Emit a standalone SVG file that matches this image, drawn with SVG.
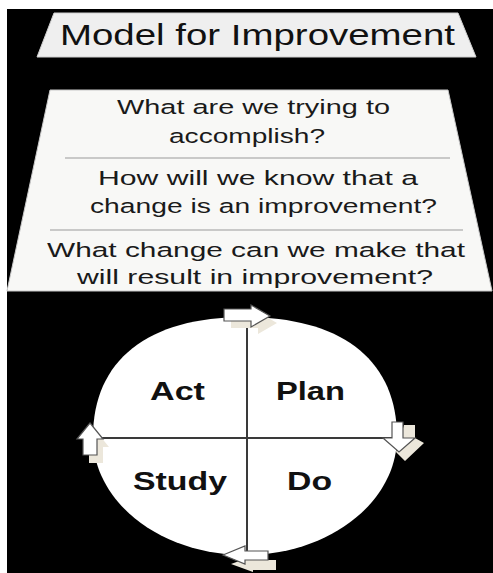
<svg xmlns="http://www.w3.org/2000/svg" width="493" height="573" viewBox="0 0 493 573">
<style>
.q{font-family:"Liberation Sans",Arial,sans-serif;font-size:20.5px;fill:#1a1a1a;}
.t{font-family:"Liberation Sans",Arial,sans-serif;font-size:29px;fill:#111;}
.lbl{font-family:"Liberation Sans",Arial,sans-serif;font-size:25px;font-weight:bold;fill:#111;}
.arrow{fill:#ffffff;stroke:#555;stroke-width:1.2;stroke-linejoin:miter;}
.shadow{fill:#ece7db;}
.sep{stroke:#9a9a9a;stroke-width:1;}
.axis{stroke:#3a3a3a;stroke-width:2;}
</style>
<rect x="0" y="0" width="493" height="573" fill="#ffffff"/>
<rect x="7" y="9" width="486" height="564" fill="#000000"/>

<g id="title">
  <polygon points="54,13 458,13 476,57 37,57" fill="#efefef" stroke="#cfcfcf" stroke-width="1"/>
  <text class="t" x="60" y="45" textLength="395" lengthAdjust="spacingAndGlyphs">Model for Improvement</text>
</g>

<g id="questions">
  <polygon points="50,90 448,90 492,291 7,291" fill="#f8f8f6" stroke="#c8c8c8" stroke-width="1"/>
  <text class="q" x="117" y="114" textLength="273" lengthAdjust="spacingAndGlyphs">What are we trying to</text>
  <text class="q" x="169" y="143" textLength="156" lengthAdjust="spacingAndGlyphs">accomplish?</text>
  <line class="sep" x1="65" y1="158" x2="450" y2="158"/>
  <text class="q" x="98" y="185" textLength="320" lengthAdjust="spacingAndGlyphs">How will we know that a</text>
  <text class="q" x="90" y="213" textLength="347" lengthAdjust="spacingAndGlyphs">change is an improvement?</text>
  <line class="sep" x1="50" y1="230" x2="463" y2="230"/>
  <text class="q" x="47" y="257" textLength="418" lengthAdjust="spacingAndGlyphs">What change can we make that</text>
  <text class="q" x="77" y="284" textLength="356" lengthAdjust="spacingAndGlyphs">will result in improvement?</text>
</g>

<g id="cycle">
  <path d="M93,437 C93,360.2 147.7,317 245,317 C342.3,317 397,360.2 397,437 C397,502.2 329,555 245,555 C161,555 93,502.2 93,437 Z" fill="#ffffff"/>
  <line class="axis" x1="247" y1="321" x2="247" y2="552"/>
  <line class="axis" x1="97" y1="438" x2="392" y2="438"/>
</g>

<g id="act"><text class="lbl" x="150" y="400" textLength="55" lengthAdjust="spacingAndGlyphs">Act</text></g>
<g id="plan"><text class="lbl" x="276" y="400" textLength="69" lengthAdjust="spacingAndGlyphs">Plan</text></g>
<g id="study"><text class="lbl" x="133" y="490" textLength="94" lengthAdjust="spacingAndGlyphs">Study</text></g>
<g id="do"><text class="lbl" x="287" y="490" textLength="45" lengthAdjust="spacingAndGlyphs">Do</text></g>

<g id="connectors">
  <polygon class="shadow" points="231,316 258,316 258,312 277,323 258,334 258,328 231,328"/>
  <polygon class="arrow" points="224,309 251,309 251,305 270,316 251,327 251,321 224,321"/>
  <polygon class="shadow" points="404,425 415,425 415,438 424,443 405,461 396,452"/>
  <polygon class="arrow" points="392,422 403,422 403,438 415,438 399,452 383,438 392,438"/>
  <polygon class="shadow" points="231,564 253,556 253,560 276,560 276,570 253,570 253,572"/>
  <polygon class="arrow" points="223,555 245,546 245,551 268,551 268,560 245,560 245,564"/>
  <polygon class="shadow" points="96,431 109,447 103,447 103,463 89,463 89,447 83,447"/>
  <polygon class="arrow" points="90,423 103,439 97,439 97,455 83,455 83,439 77,439"/>
</g>
</svg>
